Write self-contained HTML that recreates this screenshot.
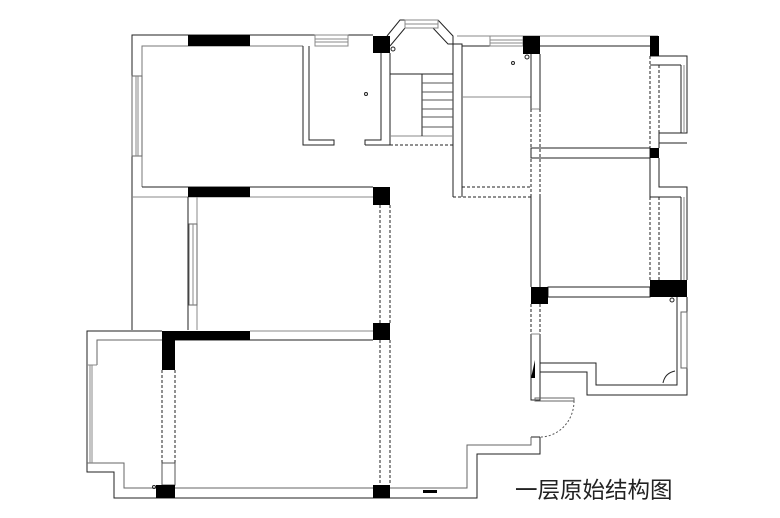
<!DOCTYPE html>
<html><head><meta charset="utf-8"><style>
html,body{margin:0;padding:0;background:#fff;}
svg{display:block}
</style></head><body>
<svg width="780" height="518" viewBox="0 0 780 518" xmlns="http://www.w3.org/2000/svg">
<g fill="none" stroke="#222" stroke-width="1">
<polyline points="132,330 132,35 373,35"/>
<polyline points="142,187 142,46 303,46" stroke="#777"/>
<line x1="142" y1="187" x2="373" y2="187"/>
<line x1="132" y1="197" x2="373" y2="197" stroke="#888"/>
<rect x="132" y="76" width="10" height="80" stroke="#666"/>
<line x1="136" y1="76" x2="136" y2="156" stroke="#888"/>
<line x1="138" y1="76" x2="138" y2="156" stroke="#888"/>
<rect x="315" y="35" width="33" height="11" stroke="#888"/>
<line x1="315" y1="39" x2="348" y2="39" stroke="#888"/><line x1="315" y1="42" x2="348" y2="42" stroke="#888"/>
<polyline points="303,46 303,145 334,145 334,140 309,140 309,46"/>
<polyline points="365,145 390,145 390,53"/>
<polyline points="365,145 365,140 381,140 381,53"/>
<circle cx="366" cy="94" r="1.5"/>
<polyline points="387,36 400,20 438,20 453,36 453,197"/>
<polyline points="390,46 405,28 433,28 448,44 462,44 462,197"/>
<rect x="405" y="20" width="33" height="8" stroke="#888"/>
<line x1="405" y1="24" x2="438" y2="24" stroke="#888"/>
<circle cx="393" cy="49" r="2"/>
<line x1="390" y1="74" x2="453" y2="74"/>
<line x1="390" y1="136" x2="453" y2="136" stroke="#888"/>
<line x1="422" y1="74" x2="422" y2="136"/>
<g stroke="#555"><line x1="422" y1="83" x2="453" y2="83"/><line x1="422" y1="92" x2="453" y2="92"/><line x1="422" y1="100" x2="453" y2="100"/><line x1="422" y1="109" x2="453" y2="109"/><line x1="422" y1="117" x2="453" y2="117"/><line x1="422" y1="127" x2="453" y2="127"/></g>
<line x1="390" y1="145" x2="453" y2="145" stroke-dasharray="3,2"/>
<line x1="457" y1="36" x2="658" y2="36" stroke="#888"/>
<line x1="462" y1="46" x2="650" y2="46"/>
<rect x="490" y="36" width="33" height="10" stroke="#888"/>
<line x1="490" y1="40" x2="523" y2="40" stroke="#888"/><line x1="490" y1="43" x2="523" y2="43" stroke="#888"/>
<circle cx="513" cy="63" r="1.5"/>
<circle cx="527" cy="57" r="2"/>
<line x1="462" y1="97" x2="531" y2="97" stroke="#888"/>
<line x1="462" y1="187" x2="531" y2="187" stroke-dasharray="3,2"/>
<line x1="453" y1="197" x2="531" y2="197" stroke-dasharray="3,2"/>
<line x1="531" y1="54" x2="531" y2="109"/><line x1="540" y1="54" x2="540" y2="109"/>
<line x1="531" y1="109" x2="540" y2="109" stroke="#888"/>
<line x1="531" y1="109" x2="531" y2="195" stroke-dasharray="3,2"/><line x1="540" y1="109" x2="540" y2="195" stroke-dasharray="3,2"/>
<line x1="531" y1="195" x2="531" y2="287"/><line x1="540" y1="195" x2="540" y2="287"/>
<rect x="531" y="148" width="119" height="10"/>
<polyline points="650,56 687,56 687,133 659,133 659,143 687,143"/>
<line x1="650" y1="65" x2="681" y2="65"/>
<line x1="681" y1="65" x2="681" y2="133"/><line x1="684" y1="65" x2="684" y2="133" stroke="#888"/>
<line x1="650" y1="56" x2="650" y2="148" stroke-dasharray="3,2"/><line x1="659" y1="65" x2="659" y2="133" stroke-dasharray="3,2"/>
<line x1="659" y1="143" x2="659" y2="148"/>
<polyline points="650,158 650,197"/><polyline points="659,158 659,187 687,187 687,280"/>
<line x1="650" y1="197" x2="681" y2="197"/>
<line x1="681" y1="197" x2="681" y2="280"/><line x1="684" y1="197" x2="684" y2="280" stroke="#888"/>
<line x1="650" y1="197" x2="650" y2="280" stroke-dasharray="3,2"/><line x1="659" y1="197" x2="659" y2="280" stroke-dasharray="3,2"/>
<rect x="548" y="287" width="102" height="10"/>
<polyline points="677,297 677,385 596,385 596,363 540,363"/>
<polyline points="687,297 687,395 587,395 587,372 540,372"/>
<rect x="681" y="312" width="6" height="56" stroke="#666"/>
<circle cx="672" cy="300" r="2"/>
<path d="M663,383 q2,-10 12,-12"/>
<line x1="531" y1="304" x2="531" y2="334" stroke-dasharray="3,2"/><line x1="540" y1="304" x2="540" y2="334" stroke-dasharray="3,2"/>
<polyline points="531,334 531,400 540,400 540,334"/>
<line x1="531" y1="334" x2="540" y2="334" stroke="#888"/>
<rect x="535" y="398" width="39" height="3" stroke="#666"/>
<path d="M574,401 A34,36 0 0 1 540,437" stroke-dasharray="2,2" stroke="#555"/>
<polyline points="540,437 540,454 477,454 477,498 114,498 114,472 87,472 87,331 162,331"/>
<polyline points="531,437 540,437"/>
<polyline points="531,437 531,445 467,445 467,488 124,488 124,463 87,463" stroke="#666"/>
<polyline points="97,365 97,340 162,340" stroke="#666"/>
<line x1="87" y1="365" x2="97" y2="365" stroke="#888"/>
<line x1="92" y1="365" x2="92" y2="463" stroke="#888"/><line x1="90" y1="365" x2="90" y2="463" stroke="#888"/>
<line x1="188" y1="197" x2="188" y2="330"/><line x1="197" y1="197" x2="197" y2="330" stroke="#888"/>
<rect x="189" y="224" width="8" height="81" stroke="#666"/>
<line x1="193" y1="224" x2="193" y2="305" stroke="#888"/>
<line x1="175" y1="340" x2="373" y2="340"/>
<line x1="250" y1="331" x2="373" y2="331" stroke="#888"/>
<line x1="380" y1="205" x2="380" y2="323" stroke-dasharray="3,2"/><line x1="390" y1="205" x2="390" y2="323" stroke-dasharray="3,2"/>
<line x1="380" y1="340" x2="380" y2="485" stroke-dasharray="3,2"/><line x1="390" y1="340" x2="390" y2="485" stroke-dasharray="3,2"/>
<line x1="162" y1="370" x2="162" y2="463" stroke-dasharray="3,2"/><line x1="175" y1="370" x2="175" y2="463" stroke-dasharray="3,2"/>
<rect x="162" y="463" width="13" height="22" stroke="#555"/>
<circle cx="154" cy="487" r="1.5"/>
</g>
<g fill="#000">
<rect x="188" y="35" width="62" height="11"/>
<rect x="373" y="36" width="17" height="17"/>
<rect x="188" y="187" width="62" height="10"/>
<rect x="373" y="187" width="17" height="18"/>
<rect x="523" y="36" width="17" height="18"/>
<rect x="650" y="36" width="9" height="20"/>
<rect x="650" y="148" width="9" height="10"/>
<rect x="531" y="287" width="17" height="17"/>
<rect x="650" y="280" width="37" height="17"/>
<polygon points="531,378 535,360 535,378"/>
<rect x="162" y="331" width="88" height="9"/>
<rect x="162" y="340" width="13" height="30"/>
<rect x="373" y="323" width="17" height="17"/>
<rect x="156" y="485" width="19" height="13"/>
<rect x="373" y="485" width="17" height="13"/>
<rect x="423" y="490" width="14" height="3"/>
</g>
<text x="515" y="498" font-family="Liberation Sans, Noto Sans CJK SC, sans-serif" font-size="22.5" fill="#222">一层原始结构图</text>
</svg>
</body></html>
